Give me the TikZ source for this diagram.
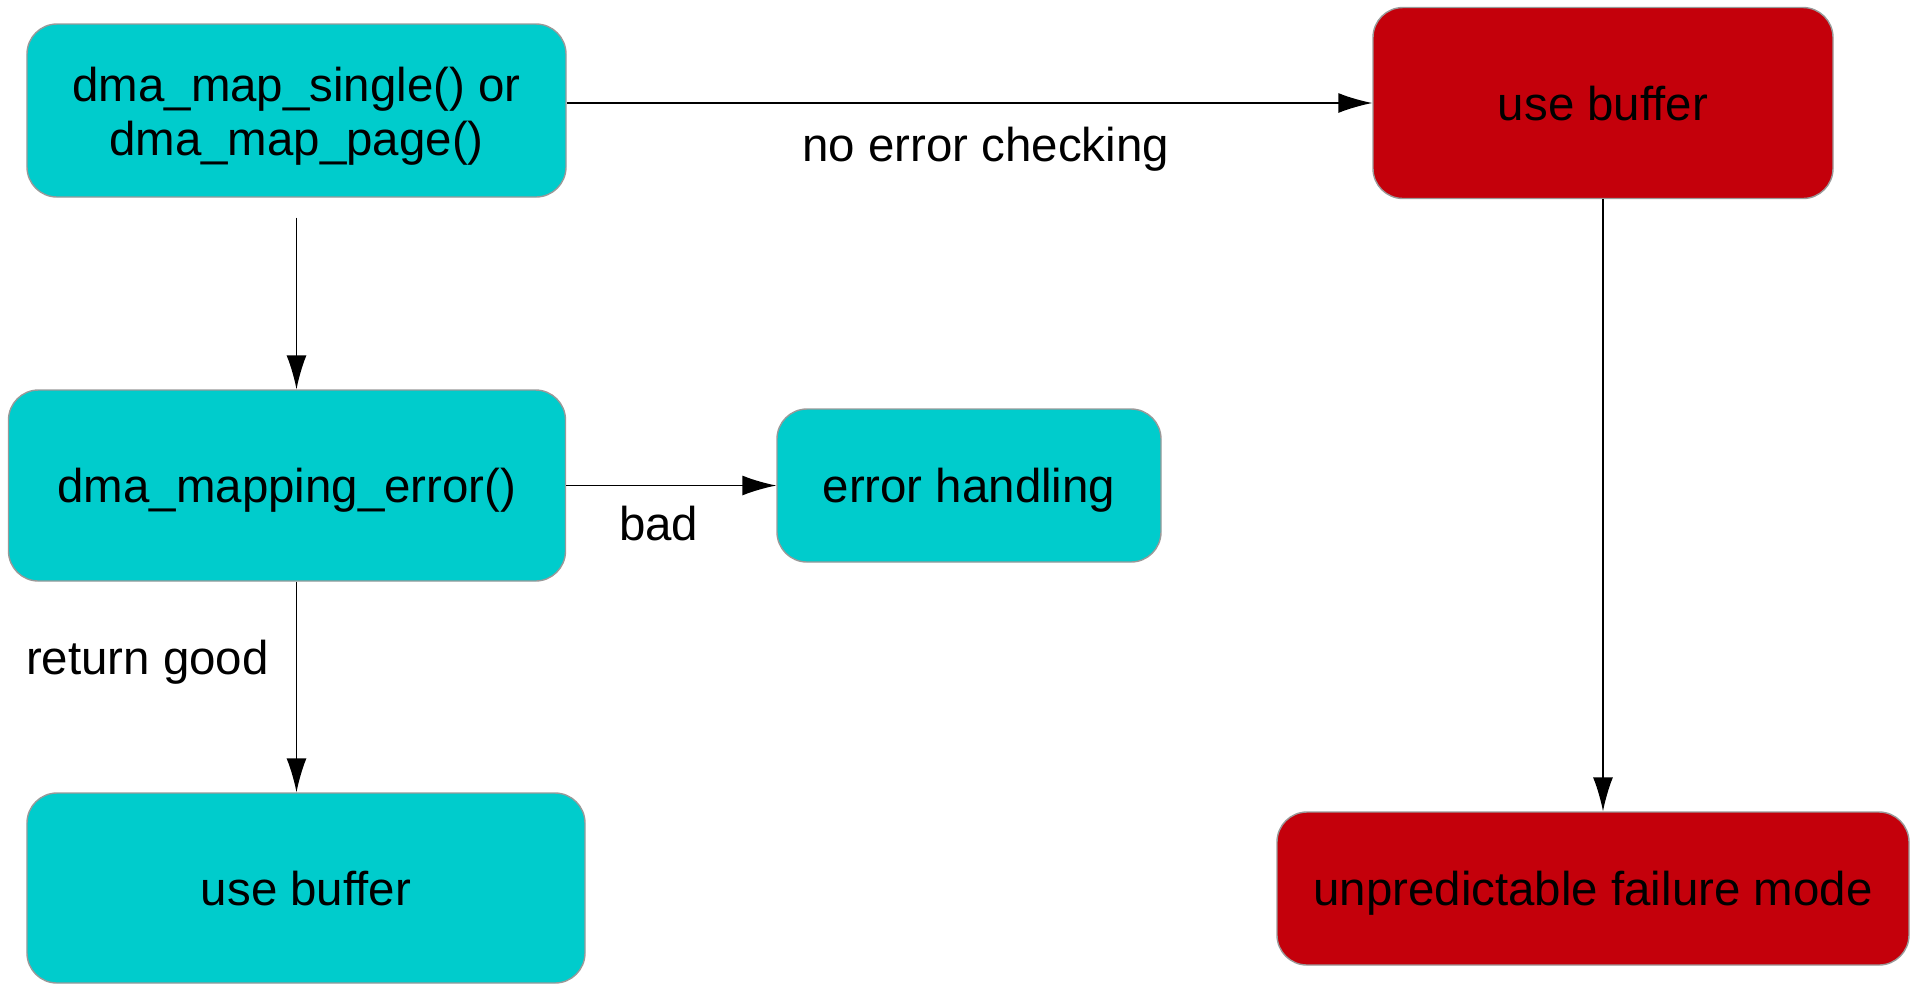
\documentclass[tikz,border=0pt]{standalone}
\usepackage{fontspec}
\setmainfont{Liberation Sans}
\usepackage{tikz}
\usetikzlibrary{arrows.meta,positioning}
\definecolor{okcyan}{HTML}{00CCCC}
\definecolor{badred}{HTML}{C4000B}

\begin{document}
\begin{tikzpicture}[
  okbox/.style={draw=gray!80,line width=0.4pt,fill=okcyan,rounded corners=0.3cm,align=center,inner sep=0pt,text depth=0pt},
  badbox/.style={draw=gray!80,line width=0.4pt,fill=badred,rounded corners=0.3cm,align=center,inner sep=0pt,text depth=0pt},
  lbl/.style={inner sep=0pt},
  every node/.style={font=\fontsize{13.5}{15.2}\selectfont},
  >={Latex[length=3.4mm,width=2mm]}]
\useasboundingbox (0,0) rectangle (19.10,-9.86);
\node[okbox,minimum width=5.39cm,minimum height=1.73cm,font=\fontsize{13.5}{15.5}\selectfont,text height=2.56em] (map) at (2.965,-1.105) {dma\_map\_single() or\\dma\_map\_page()};
\node[badbox,minimum width=4.60cm,minimum height=1.91cm] (usebad) at (16.03,-1.03) {use buffer};
\node[okbox,minimum width=5.57cm,minimum height=1.91cm] (maperr) at (2.87,-4.855) {dma\_mapping\_error()};
\node[okbox,minimum width=3.84cm,minimum height=1.53cm] (errh) at (9.69,-4.855) {error handling};
\node[okbox,minimum width=5.58cm,minimum height=1.90cm] (usegood) at (3.06,-8.88) {use buffer};
\node[badbox,minimum width=6.32cm,minimum height=1.53cm] (fail) at (15.93,-8.885) {unpredictable failure mode};
\draw[->,line width=0.4pt] (map.east |- usebad.west) -- node[lbl,pos=0.52,yshift=-0.46cm] {no error checking} (usebad.west);
\draw[->,line width=0.4pt] ([yshift=-0.2cm]map.south) -- (map.south |- maperr.north);
\draw[->,line width=0.4pt] (maperr.east) -- node[lbl,pos=0.44,yshift=-0.38cm] {bad} (errh.west);
\draw[->,line width=0.4pt] (map.south |- maperr.south) -- node[lbl,pos=0.36,anchor=east,xshift=-0.27cm,yshift=-0.05cm] {return good} (map.south |- usegood.north);
\draw[->,line width=0.4pt] (usebad.south) -- (usebad.south |- fail.north);
\end{tikzpicture}
\end{document}
